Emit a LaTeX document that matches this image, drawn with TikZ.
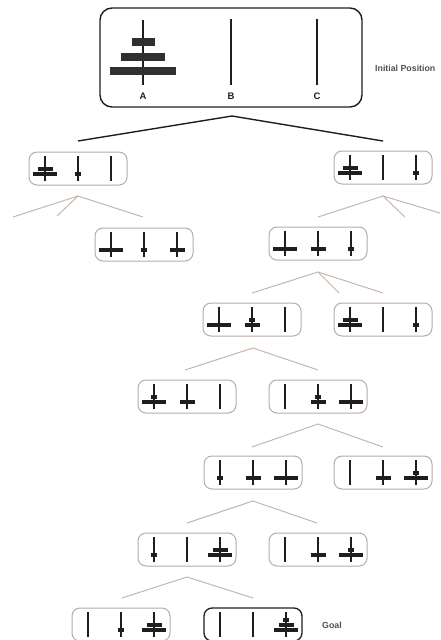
\documentclass[tikz,border=0pt]{standalone}
\usepackage{fontspec}
\setmainfont{Liberation Sans}
\usetikzlibrary{calc}
\definecolor{boxgray}{HTML}{B9ABA3}
\definecolor{linkgray}{HTML}{C4B6AE}
\definecolor{ink}{HTML}{1E1E1E}
\tikzset{
  smallbox/.style={draw=boxgray, line width=1pt, rounded corners=8pt, minimum width=98pt, minimum height=33pt, inner sep=0pt},
  goalbox/.style={smallbox, draw=ink, line width=1.3pt},
  bigbox/.style={draw=ink, line width=1.4pt, rounded corners=12pt, minimum width=262pt, minimum height=99pt, inner sep=0pt},
  peg/.style={draw=ink, line width=2.5pt},
  bigpeg/.style={draw=ink, line width=2.9pt},
  disk/.style={draw=ink, line width=3.1pt},
  bigdisk/.style={fill=ink!92!white},
  link/.style={draw=linkgray, line width=1pt},
  toplink/.style={draw=ink, line width=1.4pt},
  peglabel/.style={font=\bfseries\fontsize{9.5}{9.5}\selectfont, text=ink, inner sep=0pt},
  caption/.style={font=\bfseries\fontsize{8.8}{8.8}\selectfont, text=ink!78, inner sep=0pt, anchor=west},
}
\newcommand{\hstate}[4][smallbox]{%
  \node[#1] (#2) at (#3,{#4+16.5}) {};
  \def\hcx{#3}\def\htp{#4}%
  \foreach \k in {-33,0,33}{\draw[peg] ({#3+\k},{#4+4}) -- ({#3+\k},{#4+29});}%
}
\newcommand{\hdisk}[3]{%
  \draw[disk] ({\hcx+33*(#1)-#3},{\htp+22-5*(#2)}) -- ({\hcx+33*(#1)+#3},{\htp+22-5*(#2)});}
\begin{document}
\begin{tikzpicture}[x=1pt,y=-1pt]
\useasboundingbox (0,0) rectangle (440,640);
% ---- initial position
\node[bigbox] (top) at (231,57.5) {};
\draw[bigpeg] (143,20) -- (143,85);
\draw[bigpeg] (231,19) -- (231,85);
\draw[bigpeg] (317,19) -- (317,85);
\fill[bigdisk] (132,38) rectangle (155,46);
\fill[bigdisk] (121,53) rectangle (165,61);
\fill[bigdisk] (110,67) rectangle (176,75);
\node[peglabel] (la) at (143,96.5) {A};
\node[peglabel] (lb) at (231,96.5) {B};
\node[peglabel] (lc) at (317,96.5) {C};
\node[caption] (cap1) at (375,68) {Initial Position};
% ---- states
\hstate{s1a}{78}{152}  \hdisk{-1}{0}{12}\hdisk{-1}{1}{7.5}\hdisk{0}{0}{3}
\hstate{s1b}{383}{151} \hdisk{-1}{0}{12}\hdisk{-1}{1}{7.5}\hdisk{1}{0}{3}
\hstate{s2a}{144}{228} \hdisk{-1}{0}{12}\hdisk{0}{0}{3}\hdisk{1}{0}{7.5}
\hstate{s2b}{318}{227} \hdisk{-1}{0}{12}\hdisk{0}{0}{7.5}\hdisk{1}{0}{3}
\hstate{s3a}{252}{303} \hdisk{-1}{0}{12}\hdisk{0}{0}{7.5}\hdisk{0}{1}{3}
\hstate{s3b}{383}{303} \hdisk{-1}{0}{12}\hdisk{-1}{1}{7.5}\hdisk{1}{0}{3}
\hstate{s4a}{187}{380} \hdisk{-1}{0}{12}\hdisk{-1}{1}{3}\hdisk{0}{0}{7.5}
\hstate{s4b}{318}{380} \hdisk{0}{0}{7.5}\hdisk{0}{1}{3}\hdisk{1}{0}{12}
\hstate{s5a}{253}{456} \hdisk{-1}{0}{3}\hdisk{0}{0}{7.5}\hdisk{1}{0}{12}
\hstate{s5b}{383}{456} \hdisk{0}{0}{7.5}\hdisk{1}{0}{12}\hdisk{1}{1}{3}
\hstate{s6a}{187}{533} \hdisk{-1}{0}{3}\hdisk{1}{0}{12}\hdisk{1}{1}{7.5}
\hstate{s6b}{318}{533} \hdisk{0}{0}{7.5}\hdisk{1}{0}{12}\hdisk{1}{1}{3}
\hstate{s7a}{121}{608} \hdisk{0}{0}{3}\hdisk{1}{0}{12}\hdisk{1}{1}{7.5}
\hstate[goalbox]{goal}{253}{608} \hdisk{1}{0}{12}\hdisk{1}{1}{7.5}\hdisk{1}{2}{3}
\node[caption] (cap2) at (322,625) {Goal};
% ---- connector coordinates
\coordinate (t0) at (232,116);
\coordinate (t1) at (78,141);
\coordinate (t2) at (383,141);
\coordinate (p1a) at (78,196);
\coordinate (e1a1) at (13,217);
\coordinate (e1a2) at (57,216);
\coordinate (e1a3) at (143,217);
\coordinate (p1b) at (383,196);
\coordinate (e1b1) at (318,217);
\coordinate (e1b2) at (405,217);
\coordinate (e1b3) at (440,213);
\coordinate (p2b) at (318,272);
\coordinate (e2b1) at (252,293);
\coordinate (e2b2) at (339,293);
\coordinate (e2b3) at (383,293);
\coordinate (p3a) at (253,348);
\coordinate (e3a1) at (185,370);
\coordinate (e3a2) at (318,370);
\coordinate (p4b) at (318,424);
\coordinate (e4b1) at (252,447);
\coordinate (e4b2) at (383,447);
\coordinate (p5a) at (253,501);
\coordinate (e5a1) at (187,523);
\coordinate (e5a2) at (317,523);
\coordinate (p6a) at (187,577);
\coordinate (e6a1) at (122,598);
\coordinate (e6a2) at (253,598);
% ---- connectors
\draw[toplink] (t1) -- (t0) -- (t2);
\draw[link] (e1a1) -- (p1a) -- (e1a3);
\draw[link] (p1a) -- (e1a2);
\draw[link] (e1b1) -- (p1b) -- (e1b3);
\draw[link] (p1b) -- (e1b2);
\draw[link] (e2b1) -- (p2b) -- (e2b3);
\draw[link] (p2b) -- (e2b2);
\draw[link] (e3a1) -- (p3a) -- (e3a2);
\draw[link] (e4b1) -- (p4b) -- (e4b2);
\draw[link] (e5a1) -- (p5a) -- (e5a2);
\draw[link] (e6a1) -- (p6a) -- (e6a2);
\end{tikzpicture}
\end{document}
